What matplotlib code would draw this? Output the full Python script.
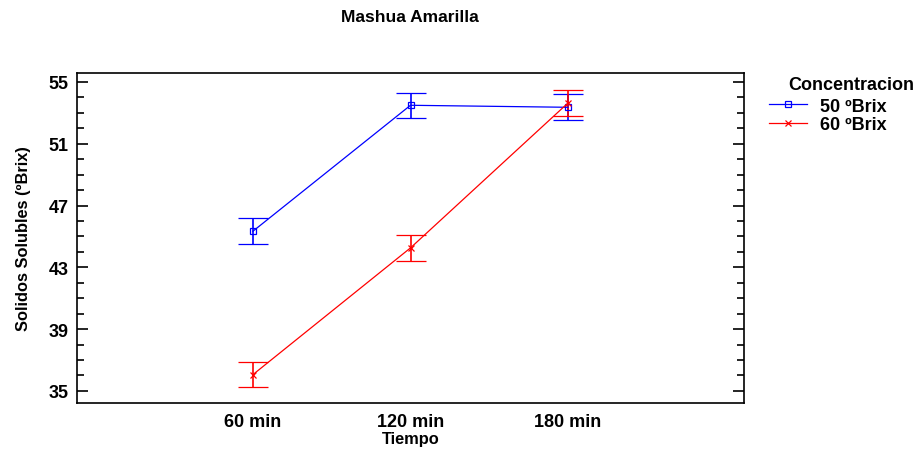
import numpy as np
import matplotlib.pyplot as plt
from matplotlib.lines import Line2D

plt.rcParams['font.family'] = ['Liberation Sans', 'DejaVu Sans']
plt.rcParams['font.weight'] = 'bold'

tiempos = ["60 min", "120 min", "180 min"]
series = ["50 ºBrix", "60 ºBrix"]
medias_50 = [45.34, 53.49, 53.36]
medias_60 = [36.06, 44.26, 53.64]
error_50 = [0.83, 0.82, 0.83]
error_60 = [0.83, 0.83, 0.84]
colores = ["#0000ff", "#ff0000"]
marcadores = ["s", "x"]
yticks = [35, 39, 43, 47, 51, 55]

fig = plt.figure(figsize=(9.2, 4.52), dpi=100)
ax = fig.add_axes([0.0837, 0.1062, 0.725, 0.7301])

x = np.arange(1, len(tiempos) + 1)
for medias, err, c, m in zip([medias_50, medias_60], [error_50, error_60], colores, marcadores):
    ax.errorbar(x, medias, yerr=err, color=c, lw=0.9, marker=m, ms=4,
                mfc="none", mew=0.9, capsize=11, capthick=1.2, elinewidth=1.2)

ax.set_xlim(-0.117, 4.117)
ax.set_ylim(34.22, 55.58)
ax.set_xticks(x)
ax.set_xticklabels(tiempos)
ax.tick_params(axis="x", length=0, pad=7, labelsize=13)
ax.set_yticks(yticks)
ax.set_yticks(np.arange(35, 56, 1), minor=True)
ax.tick_params(axis="y", which="major", direction="in", length=8, width=1.2,
               right=True, labelsize=13, pad=6)
ax.tick_params(axis="y", which="minor", direction="in", length=5, width=1.2, right=True)
for s in ax.spines.values():
    s.set_linewidth(1.2)

ax.set_xlabel("Tiempo", fontsize=11.8, fontweight="bold", labelpad=1)
ax.set_ylabel("Solidos Solubles (ºBrix)", fontsize=11.8, fontweight="bold", labelpad=13)
fig.text(0.446, 0.962, "Mashua Amarilla", ha="center", va="center", fontsize=12.5, fontweight="bold")

# leyenda a la derecha del grafico
fig.text(0.857, 0.81, "Concentracion", ha="left", va="center", fontsize=13, fontweight="bold")
handles = [Line2D([], [], color=c, marker=m, ms=4, mfc="none", lw=0.9, mew=0.9)
           for c, m in zip(colores, marcadores)]
fig.legend(handles, series, loc="upper left", bbox_to_anchor=(0.836, 0.782),
           frameon=False, prop={"size": 13, "weight": "bold"},
           handlelength=2.1, handletextpad=0.7, labelspacing=0.1, borderpad=0,
           borderaxespad=0)

fig.savefig("out.png", dpi=100)
